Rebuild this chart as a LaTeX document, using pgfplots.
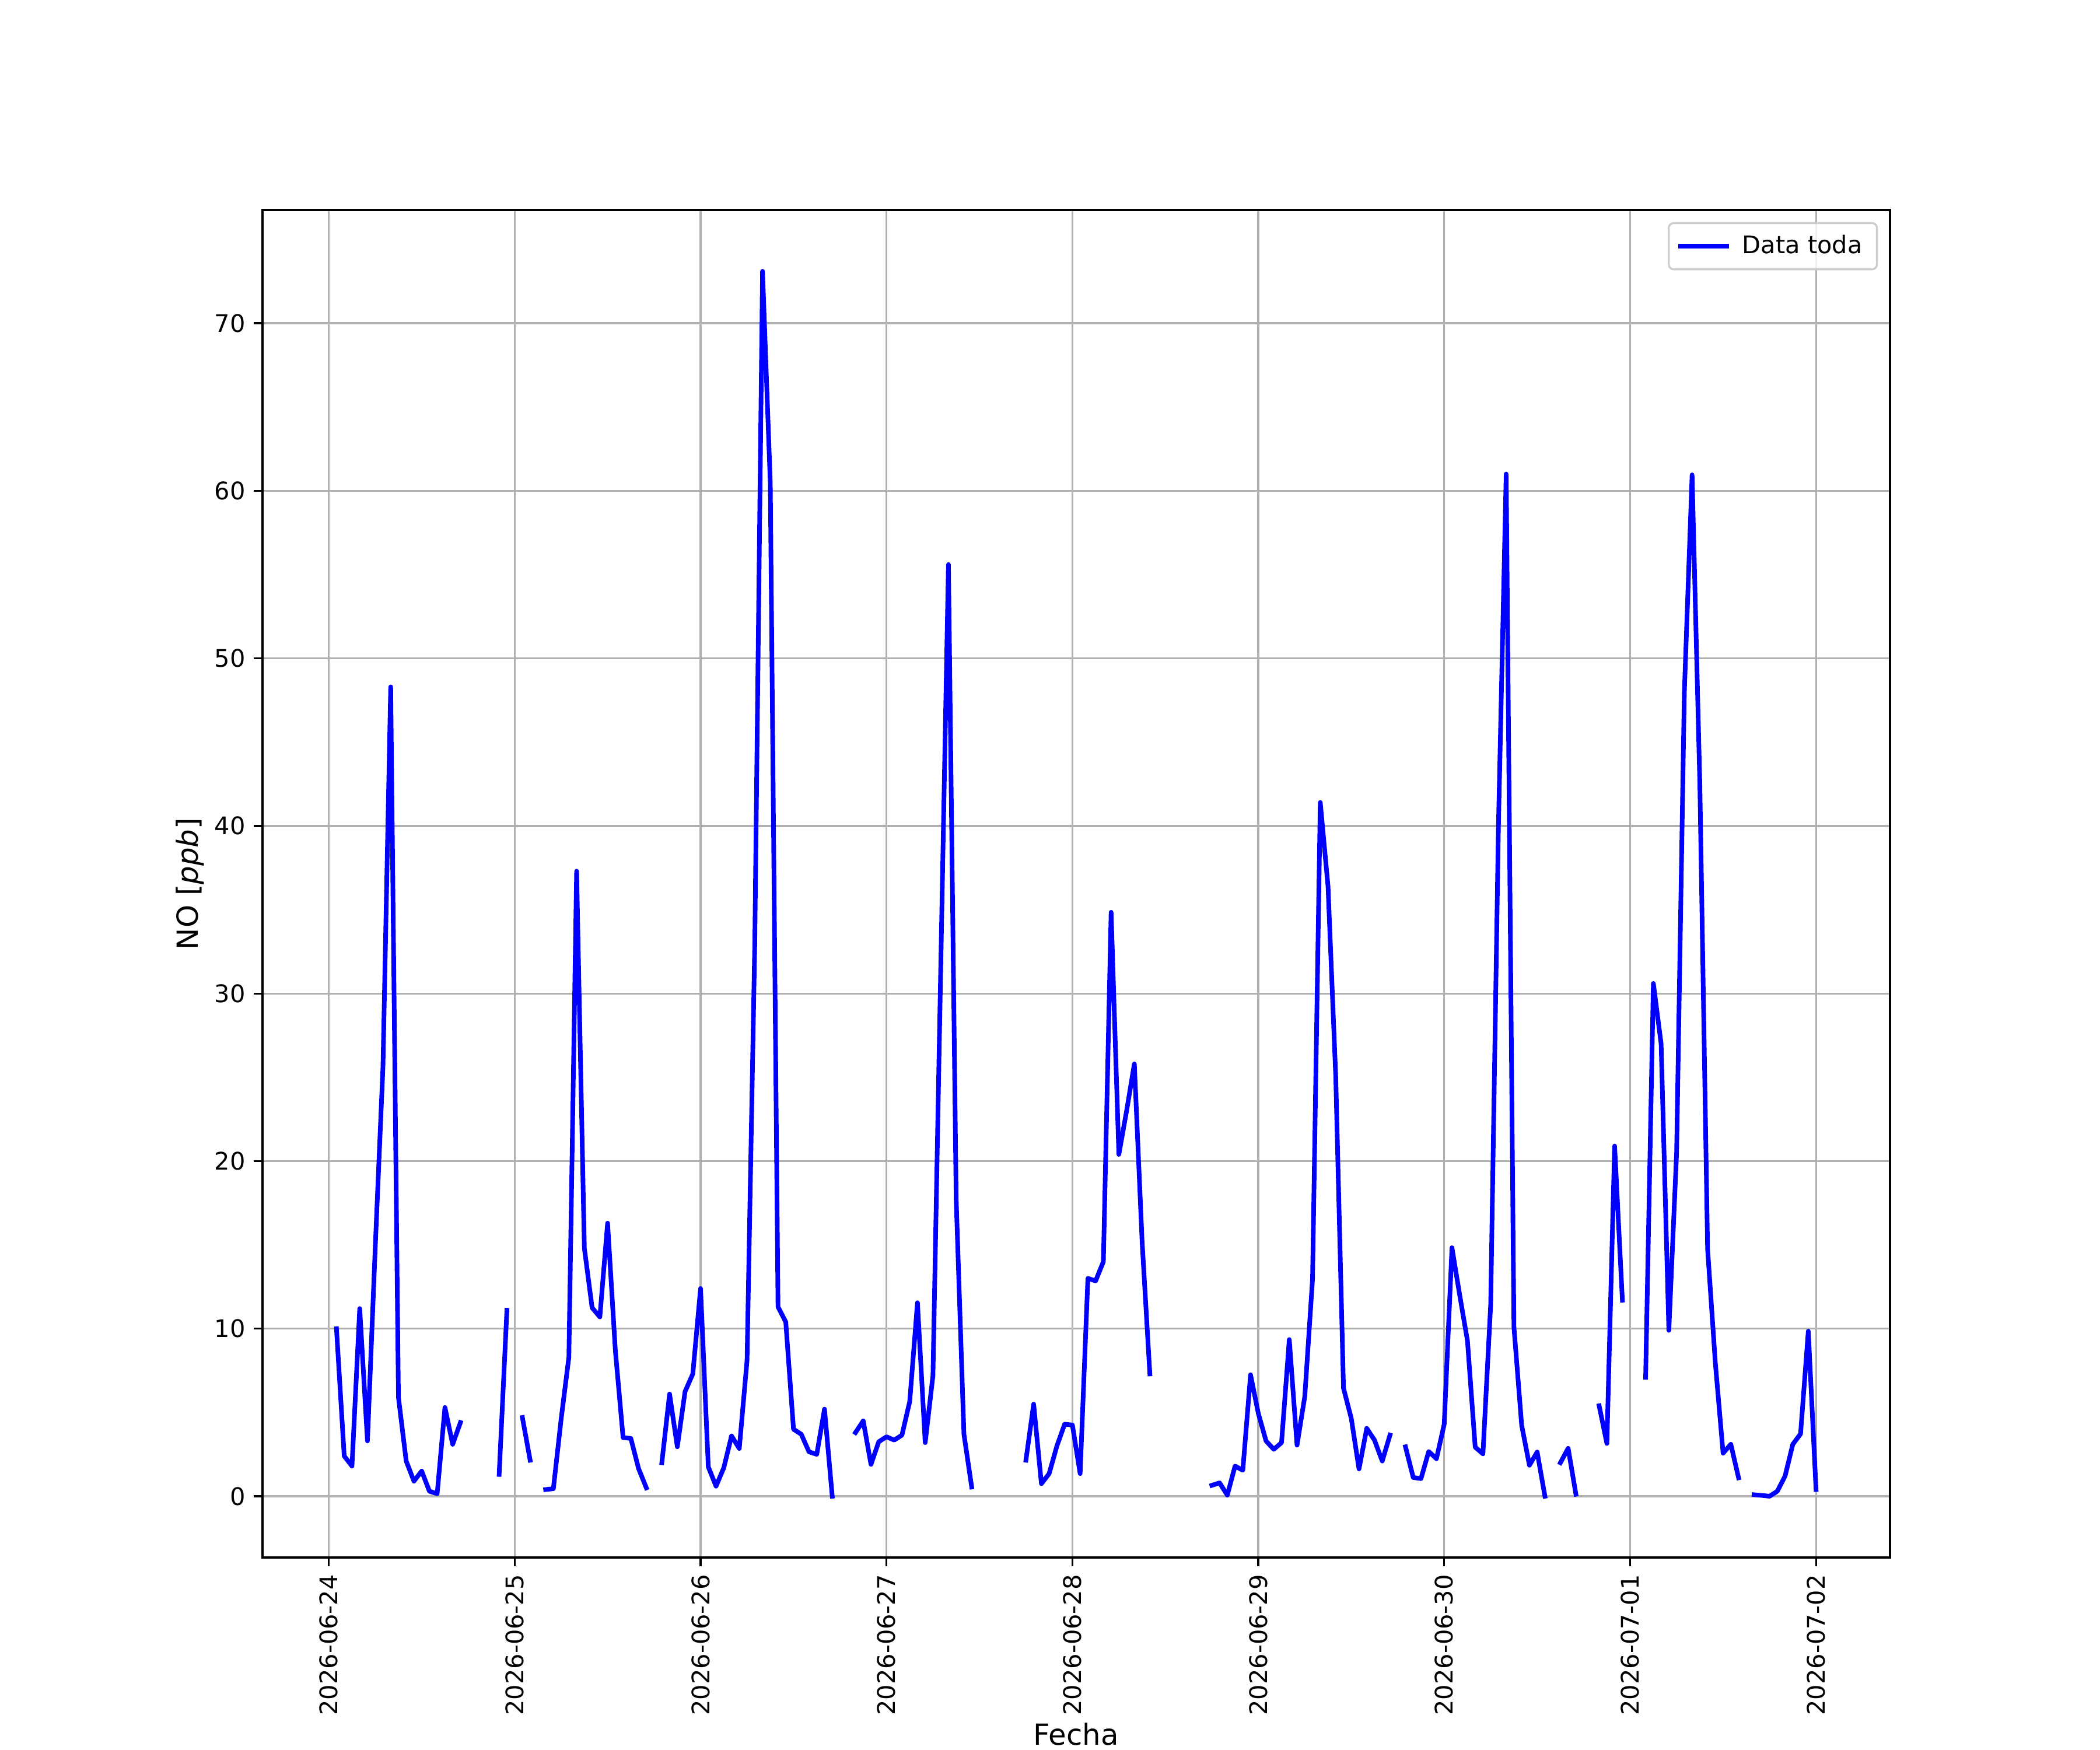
\documentclass[border=0pt]{standalone}
\usepackage{fontspec}
\setmainfont{DejaVu Sans}
\usepackage{pgfplots}
\usepackage{pgfplotstable}
\pgfplotsset{compat=1.18}
\definecolor{gridgray}{HTML}{B0B0B0}
\definecolor{legedge}{HTML}{CCCCCC}
\pgfplotstableread{
hour value
1 10.0
2 2.4
3 1.8
4 11.2
5 3.3
6 14.8
7 25.6
8 48.3
9 5.9
10 2.1
11 0.9
12 1.5
13 0.3
14 0.15
15 5.3
16 3.1
17 4.4
18 nan
19 nan
20 nan
21 nan
22 1.3
23 11.1
24 nan
25 4.7
26 2.15
27 nan
28 0.4
29 0.45
30 4.6
31 8.3
32 37.3
33 14.8
34 11.25
35 10.7
36 16.3
37 8.7
38 3.5
39 3.45
40 1.65
41 0.5
42 nan
43 2.0
44 6.1
45 2.95
46 6.25
47 7.3
48 12.4
49 1.75
50 0.6
51 1.7
52 3.6
53 2.85
54 8.1
55 33.0
56 73.1
57 60.5
58 11.3
59 10.4
60 4.0
61 3.7
62 2.65
63 2.5
64 5.2
65 0.0
66 nan
67 nan
68 3.8
69 4.5
70 1.9
71 3.25
72 3.55
73 3.35
74 3.65
75 5.65
76 11.55
77 3.2
78 7.2
79 31.4
80 55.6
81 17.7
82 3.7
83 0.55
84 nan
85 nan
86 nan
87 nan
88 nan
89 nan
90 2.15
91 5.5
92 0.75
93 1.35
94 3.0
95 4.3
96 4.25
97 1.35
98 13.0
99 12.85
100 14.0
101 34.85
102 20.4
103 23.0
104 25.8
105 15.2
106 7.3
107 nan
108 nan
109 nan
110 nan
111 nan
112 nan
113 nan
114 0.65
115 0.8
116 0.07
117 1.8
118 1.55
119 7.25
120 4.95
121 3.3
122 2.8
123 3.2
124 9.35
125 3.05
126 5.95
127 12.95
128 41.4
129 36.4
130 25.0
131 6.45
132 4.65
133 1.63
134 4.05
135 3.35
136 2.1
137 3.65
138 nan
139 2.95
140 1.12
141 1.05
142 2.67
143 2.24
144 4.3
145 14.83
146 12.0
147 9.28
148 2.93
149 2.53
150 11.45
151 40.0
152 61.0
153 10.1
154 4.23
155 1.85
156 2.64
157 0.0
158 nan
159 2.0
160 2.86
161 0.12
162 nan
163 nan
164 5.4
165 3.15
166 20.9
167 11.7
168 nan
169 nan
170 7.1
171 30.6
172 27.0
173 9.9
174 20.5
175 48.0
176 60.95
177 42.5
178 14.76
179 7.95
180 2.57
181 3.1
182 1.1
183 nan
184 0.09
185 0.05
186 0.0
187 0.3
188 1.2
189 3.1
190 3.72
191 9.85
192 0.4
}\datatable
\begin{document}
\begin{tikzpicture}
\begin{axis}[
  at={(0,0)}, anchor=south west, scale only axis,
  width=9.3in, height=7.7in,
  xmin=-8.55, xmax=201.55, ymin=-3.655, ymax=76.755,
  xtick={0,24,...,192},
  xticklabels={2026-06-24,2026-06-25,2026-06-26,2026-06-27,2026-06-28,2026-06-29,2026-06-30,2026-07-01,2026-07-02},
  ytick={0,10,...,70},
  /pgf/number format/assume math mode=true,
  x tick label style={rotate=90, anchor=east, font=\fontsize{10}{12}\selectfont},
  y tick label style={font=\fontsize{10}{12}\selectfont},
  grid=major,
  grid style={color=gridgray, line width=0.8pt},
  axis line style={line width=0.8pt},
  every tick/.style={black, line width=0.8pt},
  tick align=outside, major tick length=3.5pt,
  xtick pos=lower, ytick pos=left,
  xlabel={Fecha}, ylabel={NO [\textit{ppb}]},
  label style={font=\fontsize{12}{14}\selectfont},
  xlabel style={at={(axis description cs:0.5,0)}, anchor=base, inner sep=0pt, yshift=-1.072in},
  ylabel style={yshift=-2.5pt},
  unbounded coords=jump,
  legend style={at={(1,1)}, anchor=north east, xshift=-5pt, yshift=-5pt,
    draw=legedge, line width=0.8pt, rounded corners=2pt, fill=white, fill opacity=0.8, text opacity=1,
    font=\fontsize{10}{12}\selectfont, inner xsep=4pt, inner ysep=3pt},
  legend cell align=left,
  legend image code/.code={\draw[#1, line width=1.9pt] (0pt,0pt) -- (19pt,0pt);},
]
\addplot[blue, line width=1.9pt, line cap=rect, line join=round] table[x=hour, y=value] {\datatable};
\addlegendentry{\hspace{3.5pt}Data toda}
\end{axis}
\pgfresetboundingbox
\path (-1.5in,-1.1in) rectangle ++(12in,10in);
\end{tikzpicture}
\end{document}
